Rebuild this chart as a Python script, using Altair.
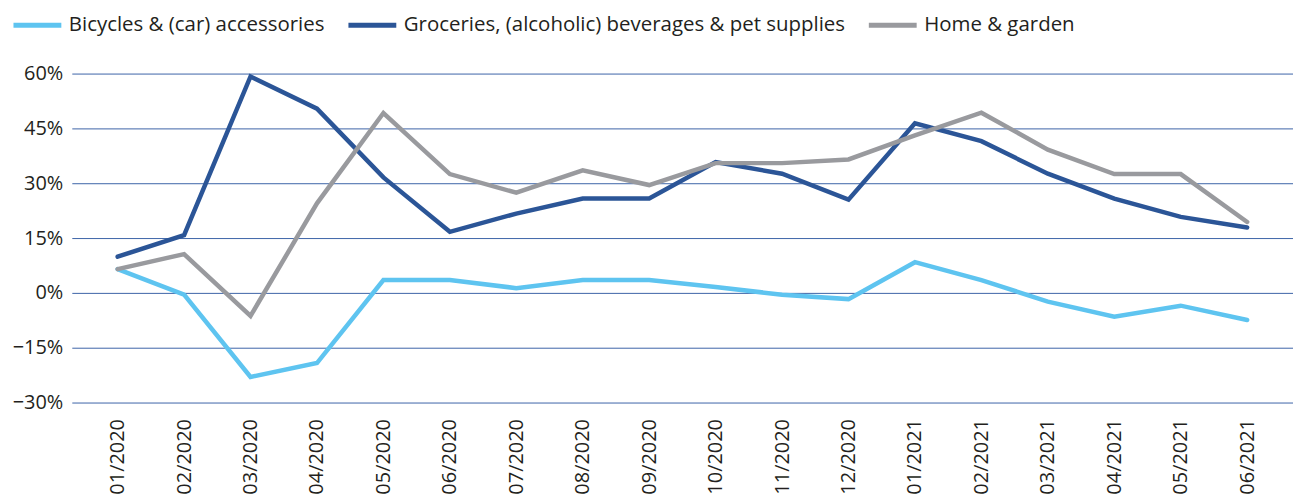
import altair as alt
import pandas as pd

months = ["01/2020", "02/2020", "03/2020", "04/2020", "05/2020", "06/2020",
          "07/2020", "08/2020", "09/2020", "10/2020", "11/2020", "12/2020",
          "01/2021", "02/2021", "03/2021", "04/2021", "05/2021", "06/2021"]

series_names = ["Bicycles & (car) accessories",
                "Groceries, (alcoholic) beverages & pet supplies",
                "Home & garden"]

bicycles = [6.5, -0.5, -23.0, -19.2, 3.5, 3.5, 1.3, 3.5, 3.5, 1.6, -0.5, -1.7,
            8.4, 3.5, -2.4, -6.5, -3.5, -7.4]
groceries = [9.9, 15.8, 59.2, 50.4, 31.6, 16.7, 21.7, 25.8, 25.8, 35.8, 32.6, 25.5,
             46.4, 41.5, 32.6, 25.8, 20.8, 17.9]
home = [6.5, 10.6, -6.3, 24.5, 49.2, 32.5, 27.4, 33.5, 29.5, 35.5, 35.5, 36.5,
        43.1, 49.3, 39.2, 32.5, 32.5, 19.4]

colors = ["#5EC4F0", "#2B5597", "#999A9E"]

rows = []
for name, vals in zip(series_names, [bicycles, groceries, home]):
    for m, v in zip(months, vals):
        rows.append({"month": m, "series": name, "value": v / 100.0})
df = pd.DataFrame(rows)

font = "Open Sans"
fs = 20

chart = alt.Chart(df).mark_line(strokeWidth=4.5, strokeCap="round").encode(
    x=alt.X("month:N", sort=months, title=None,
            scale=alt.Scale(type="point", padding=0.69),
            axis=alt.Axis(labelAngle=-90, labelAlign="right", labelBaseline="middle",
                          labelPadding=16, ticks=False, domain=False, grid=False,
                          labelFont=font, labelFontSize=fs, labelColor="#231F20")),
    y=alt.Y("value:Q", title=None,
            scale=alt.Scale(domain=[-0.30, 0.60], nice=False, zero=False),
            axis=alt.Axis(values=[-0.30, -0.15, 0, 0.15, 0.30, 0.45, 0.60],
                          format=".0%", ticks=False, domain=False, grid=True,
                          gridColor="#3D64A8", gridWidth=1, gridOpacity=1,
                          labelPadding=9, labelFont=font, labelFontSize=fs,
                          labelColor="#231F20")),
    color=alt.Color("series:N", sort=series_names,
                    scale=alt.Scale(domain=series_names, range=colors),
                    legend=alt.Legend(title=None, orient="none", direction="horizontal",
                                      legendX=-61, legendY=-75,
                                      symbolType="stroke", symbolSize=2304,
                                      symbolStrokeWidth=5, labelOffset=5,
                                      columnPadding=13, labelFont=font,
                                      labelFontSize=20.5, labelColor="#231F20",
                                      labelLimit=600)),
).properties(
    width=1225, height=330,
    autosize=alt.AutoSizeParams(type="none"),
    padding={"left": 64, "top": 65, "right": 0, "bottom": 100},
).configure_view(stroke=None)

chart.save("out.html", embed_options={"renderer": "svg", "actions": False})
